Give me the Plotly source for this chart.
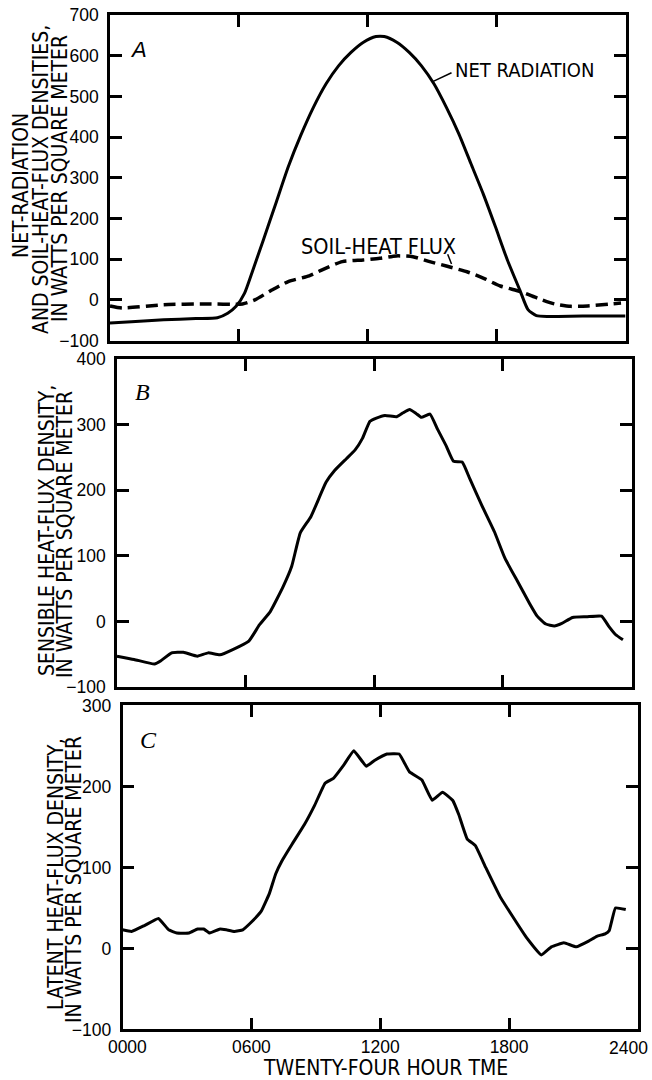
import plotly.graph_objects as go

# ---------------- data (hours of day, W/m2) ----------------
hours_net = [0, 1, 2.5, 4, 5.0, 5.48, 5.87, 6.26, 6.65, 7.14, 7.72, 8.3, 8.88, 9.47, 10.06,
             10.64, 11.22, 11.8, 12.38, 12.77, 13.35, 13.93, 14.5, 15.08, 15.66, 16.24,
             16.8, 17.37, 17.94, 18.5, 19.08, 19.46, 19.85, 20.43, 22, 24]
net_radiation = [-57, -54, -49, -46, -44, -33, -16, 16, 73, 147, 237, 327, 404, 473, 531,
                 575, 608, 633, 647, 647, 633, 608, 575, 531, 473, 408,
                 335, 261, 180, 98, 24, -24, -39, -41, -40, -40]

hours_soil = [0, 0.56, 2.5, 4.43, 6.17, 6.75, 7.53, 8.3, 9.27, 9.85, 10.82, 11.79, 12.56,
              13.33, 14.1, 14.88, 15.66, 16.62, 17.4, 18.17, 19.14, 19.91, 20.69, 21.46,
              22.24, 23.79]
soil_heat_flux = [-15, -20, -12, -10, -10, 0, 24, 45, 59, 73, 94, 98, 102,
                  108, 106, 94, 83, 69, 53, 34, 20, 4, -10, -16,
                  -15, -8]

hours_sensible = [0, 0.8, 1.75, 2.05, 2.55, 3.1, 3.75, 4.25, 4.8, 5.4, 6.15, 6.65, 7.15,
                  7.75, 8.15, 8.55, 9.05, 9.75, 10.15, 10.7, 11.1, 11.45, 11.8, 12.1,
                  12.5, 13.05, 13.35, 13.65, 13.95, 14.2, 14.6, 14.95, 15.35, 15.7, 16.1,
                  16.45, 17.0, 17.6, 18.1, 18.7, 19.25, 19.6, 20.0, 20.4, 20.75, 21.25,
                  21.9, 22.6, 22.95, 23.25, 23.6]
sensible_heat = [-53, -58, -65, -60, -48, -47, -53, -48, -51, -43, -30, -5, 15,
                 53, 84, 135, 160, 212, 230, 248, 261, 279, 305, 310,
                 314, 312, 318, 323, 317, 311, 316, 293, 268, 244, 243,
                 218, 178, 137, 96, 60, 27, 8, -4, -7, -3, 6,
                 7, 8, -8, -20, -28]

hours_latent = [0, 0.42, 1.0, 1.67, 2.15, 2.53, 3.1, 3.49, 3.78, 4.06, 4.54, 4.83, 5.21,
                5.6, 5.98, 6.46, 6.84, 7.13, 7.42, 7.9, 8.47, 8.95, 9.43, 9.82, 10.29,
                10.77, 11.35, 11.73, 12.31, 12.88, 13.36, 13.94, 14.42, 14.9, 15.37,
                15.66, 16.05, 16.43, 16.91, 17.58, 18.15, 18.82, 19.5, 19.97, 20.55,
                21.13, 21.7, 22.08, 22.47, 22.66, 22.95, 23.43]
latent_heat = [23, 21, 28, 37, 23, 19, 19, 24, 24, 19, 24, 23, 21,
               23, 32, 46, 68, 92, 108, 129, 153, 177, 204, 210, 226,
               244, 225, 232, 240, 240, 218, 208, 183, 193, 183,
               165, 135, 127, 100, 64, 40, 13, -8, 2, 7,
               2, 9, 15, 18, 22, 50, 48]

x_tick_vals = [0, 6, 12, 18, 24]
x_tick_text = ["0000", "0600", "1200", "1800", "2400"]

FONT = "Liberation Sans Narrow, DejaVu Sans Condensed, Liberation Sans, Arial, sans-serif"
TICKFONT = dict(family="Liberation Sans, Arial, sans-serif", size=17.5, color="black")

fig = go.Figure()
fig.add_trace(go.Scatter(x=hours_net, y=net_radiation, xaxis="x", yaxis="y", mode="lines",
                         line=dict(color="black", width=3, shape="spline", smoothing=0.6)))
fig.add_trace(go.Scatter(x=hours_soil, y=soil_heat_flux, xaxis="x", yaxis="y", mode="lines",
                         line=dict(color="black", width=3.5, dash="12px,6px", shape="spline",
                                   smoothing=0.6)))
fig.add_trace(go.Scatter(x=hours_sensible, y=sensible_heat, xaxis="x2", yaxis="y2", mode="lines",
                         line=dict(color="black", width=3, shape="spline", smoothing=0.4)))
fig.add_trace(go.Scatter(x=hours_latent, y=latent_heat, xaxis="x3", yaxis="y3", mode="lines",
                         line=dict(color="black", width=3, shape="spline", smoothing=0.3)))

# bottom axis labels: the last one is drawn as an annotation so it can sit inside the page
bottom_ticktext = ["\u00a0\u00a0" + x_tick_text[0]] + x_tick_text[1:-1] + [""]


def xax(domain, anchor, labels):
    return dict(domain=domain, anchor=anchor, range=[0, 24], tickvals=x_tick_vals,
                ticktext=bottom_ticktext if labels else x_tick_text,
                showticklabels=labels, ticks="inside", ticklen=12,
                tickwidth=2.5, tickcolor="black", showline=True, linewidth=2.5,
                linecolor="black", mirror="ticks", showgrid=False, zeroline=False,
                tickfont=TICKFONT, fixedrange=True, automargin=False)


def yax(domain, anchor, rng):
    return dict(domain=domain, anchor=anchor, range=rng, dtick=100, tick0=0, ticks="inside",
                ticklen=12, tickwidth=2.5, tickcolor="black", showline=True, linewidth=2.5,
                linecolor="black", mirror="ticks", showgrid=False, zeroline=False,
                tickfont=TICKFONT, ticklabelstandoff=5, fixedrange=True, automargin=False)


W, H = 652, 1080
def px(x):
    return x / W
def py(y):
    return 1 - y / H

annotations = []
def title_line(text, x, y, size=21):
    annotations.append(dict(text=text, x=px(x), y=py(y), xref="paper", yref="paper",
                            showarrow=False, textangle=-90, xanchor="center", yanchor="middle",
                            font=dict(family=FONT, size=size, color="black")))

title_line("NET-RADIATION", 21, 186)
title_line("AND SOIL-HEAT-FLUX DENSITIES,", 41, 180)
title_line("IN WATTS PER SQUARE METER", 60, 179)
title_line("SENSIBLE HEAT-FLUX DENSITY,", 47, 531)
title_line("IN WATTS PER SQUARE METER", 65, 535)
title_line("LATENT HEAT-FLUX DENSITY,", 56, 874)
title_line("IN WATTS PER SQUARE METER", 74, 880)

annotations.append(dict(text="TWENTY-FOUR HOUR TME", x=px(385), y=py(1068), xref="paper",
                        yref="paper", showarrow=False, xanchor="center", yanchor="middle",
                        font=dict(family=FONT, size=21, color="black")))

# last bottom tick label, kept inside the page edge
annotations.append(dict(text=x_tick_text[-1], x=x_tick_vals[-1], xref="x3", y=py(1048),
                        yref="paper", showarrow=False, xanchor="right", yanchor="middle",
                        xshift=12, font=TICKFONT))

annotations.append(dict(text="<i>A</i>", x=px(138), y=py(50), xref="paper", yref="paper",
                        showarrow=False, xanchor="center", yanchor="middle",
                        font=dict(family="Liberation Sans, Arial, sans-serif", size=22,
                                  color="black")))
for letter, xx, yy in [("B", 142, 392), ("C", 148, 740)]:
    annotations.append(dict(text="<i>%s</i>" % letter, x=px(xx), y=py(yy), xref="paper",
                            yref="paper", showarrow=False, xanchor="center", yanchor="middle",
                            font=dict(family="Liberation Serif, Times New Roman, serif",
                                      size=24, color="black")))

annotations.append(dict(text="NET RADIATION", x=15.95, y=566, xref="x", yref="y",
                        showarrow=False, xanchor="left", yanchor="middle",
                        font=dict(family=FONT, size=20, color="black")))
annotations.append(dict(text="SOIL-HEAT FLUX", x=12.5, y=132, xref="x", yref="y",
                        showarrow=False, xanchor="center", yanchor="middle",
                        font=dict(family=FONT, size=21.5, color="black")))

shapes = [
    dict(type="line", xref="x", yref="y", x0=15.05, y0=537, x1=15.9, y1=558,
         line=dict(color="black", width=1.5)),
    dict(type="line", xref="x", yref="y", x0=15.72, y0=112, x1=15.9, y1=88,
         line=dict(color="black", width=1.5)),
]

fig.update_layout(
    width=W, height=H, margin=dict(l=0, r=0, t=0, b=0, autoexpand=False),
    paper_bgcolor="white", plot_bgcolor="white", showlegend=False,
    xaxis=xax([0.1687, 0.9594], "y", False),
    yaxis=yax([0.6847, 0.9861], "x", [-100, 700]),
    xaxis2=xax([0.1794, 0.9686], "y2", False),
    yaxis2=yax([0.3639, 0.6676], "x2", [-100, 400]),
    xaxis3=xax([0.1879, 0.9785], "y3", True),
    yaxis3=yax([0.0468, 0.3468], "x3", [-100, 300]),
    annotations=annotations, shapes=shapes,
)

fig.write_html("out.html", config={"displayModeBar": False},
               post_script="document.body.style.margin='0';document.body.style.padding='0';")
